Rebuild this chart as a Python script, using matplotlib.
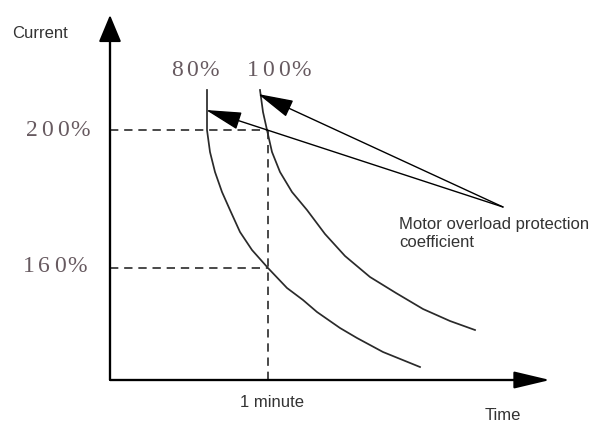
import matplotlib
matplotlib.use("Agg")
import matplotlib.pyplot as plt

# ---- data (schematic units: origin at the axes corner) ----
curve80_t = [97, 97, 97, 100, 105, 112, 120, 130, 142, 158, 177, 193, 207, 230, 247, 273, 310]
curve80_i = [290, 270, 250, 228, 208, 188, 170, 148, 130, 112, 92, 80, 68, 52, 42, 28, 13]
curve100_t = [150, 153, 157, 162, 170, 182, 197, 215, 235, 260, 286, 313, 340, 365]
curve100_i = [290, 268, 250, 228, 208, 188, 170, 146, 124, 103, 87, 71, 59, 50]
level_200 = 250
level_160 = 112
one_minute = 158
tick_labels = ["200%", "160%"]
curve_labels = ["80%", "100%"]

fig = plt.figure(figsize=(5.97, 4.23), dpi=100)
ax = fig.add_axes([0, 0, 1, 1])
ax.set_xlim(-110, 487)
ax.set_ylim(-43, 380)
ax.axis("off")

dark = "#2a2a2a"
axis_c = "#5a5a5a"

# axes with arrow heads
ax.annotate("", xy=(440, 0), xytext=(0, 0),
            arrowprops=dict(arrowstyle="-|>,head_length=1.6,head_width=0.38",
                            color="black", lw=1.5, shrinkA=0, shrinkB=0,
                            mutation_scale=14))
ax.plot([0, 415], [0, 0], color=axis_c, lw=1.7, solid_capstyle="butt")
ax.annotate("", xy=(0, 365), xytext=(0, 0),
            arrowprops=dict(arrowstyle="-|>,head_length=1.2,head_width=0.5",
                            color="black", lw=1.5, shrinkA=0, shrinkB=0,
                            mutation_scale=14))
ax.plot([0, 0], [0, 345], color=axis_c, lw=1.7, solid_capstyle="butt")

# dashed guide lines
dash = (0, (5, 3.5))
ax.plot([0, one_minute], [level_200, level_200], color=dark, lw=1.2, linestyle=dash)
ax.plot([0, one_minute], [level_160, level_160], color=dark, lw=1.2, linestyle=dash)
ax.plot([one_minute, one_minute], [0, level_200], color=dark, lw=1.2, linestyle=dash)

# curves
ax.plot(curve80_t, curve80_i, color=dark, lw=1.25, solid_joinstyle="round")
ax.plot(curve100_t, curve100_i, color=dark, lw=1.25, solid_joinstyle="round")

# pointer arrows
src = (393, 173)
for tip in [(96, 270), (148, 286)]:
    ax.annotate("", xy=tip, xytext=src,
                arrowprops=dict(arrowstyle="-|>,head_length=1.6,head_width=0.4",
                                color="black", lw=1.0, shrinkA=0, shrinkB=0,
                                mutation_scale=14))

# spaced serif labels
serif_c = "#675a60"
def spaced(x0, y, s, pitch=15.5):
    x = x0
    for ch in s:
        w = pitch * (1.2 if ch == "%" else 1.0)
        ax.text(x + w / 2, y, ch, ha="center", va="center",
                family="Liberation Serif", fontsize=17, color=serif_c)
        x += w

spaced(-86, level_200, tick_labels[0])
spaced(-89, level_160 + 2, tick_labels[1])
spaced(59, 310, curve_labels[0])
spaced(135, 310, curve_labels[1])

sans = dict(family="Liberation Sans", fontsize=12, color="#333333")
ax.text(-98, 347, "Current", ha="left", va="center", **sans)
ax.text(one_minute + 4, -22, "1 minute", ha="center", va="center", **sans)
ax.text(375, -35, "Time", ha="left", va="center", **sans)
ax.text(289, 156, "Motor overload protection", ha="left", va="center", **sans)
ax.text(289, 138, "coefficient", ha="left", va="center", **sans)

fig.savefig("out.png", dpi=100, facecolor="white")
